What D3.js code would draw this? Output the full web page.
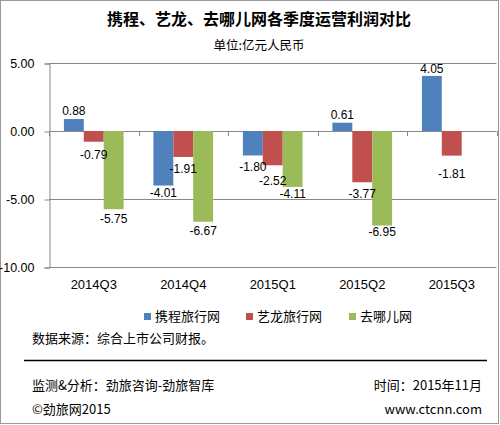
<!DOCTYPE html>
<html>
<head>
<meta charset="utf-8">
<script src="https://cdn.jsdelivr.net/npm/d3@7"></script>
<style>
body { margin: 0; background: #fff; }
text { font-family: "Liberation Sans", "Noto Sans CJK SC", sans-serif; }
.cjk { font-family: "Noto Sans CJK SC", sans-serif; }
</style>
</head>
<body>
<svg id="chart" width="500" height="425"></svg>
<script>
// data
var quarters = ["2014Q3", "2014Q4", "2015Q1", "2015Q2", "2015Q3"];
var seriesNames = ["携程旅行网", "艺龙旅行网", "去哪儿网"];
var ctrip = [0.88, -4.01, -1.80, 0.61, 4.05];
var elong = [-0.79, -1.91, -2.52, -3.77, -1.81];
var qunar = [-5.75, -6.67, -4.11, -6.95, null];
var yTicks = [5, 0, -5, -10];
var colors = ["#4f81bd", "#c0504d", "#9bbb59"];
// how far each value label sits past the bar end (px), as placed in the original
var labelGap = [[8, 7, 12, 8, 7], [13, 12, 16, 12, 18], [10, 9, 7, 6, 0]];

var fmt = function(v){ return d3.format(".2f")(v).replace("\u2212", "-"); };

var svg = d3.select("#chart");
var allSeries = [ctrip, elong, qunar];

// outer frame
svg.append("rect")
	.attr("x", 0.5).attr("y", 0.5)
	.attr("width", 498).attr("height", 423)
	.attr("fill", "#fff")
	.attr("stroke", "#999");

// titles
svg.append("text").attr("class", "cjk")
	.attr("x", 259).attr("y", 25)
	.attr("text-anchor", "middle")
	.attr("font-size", 16).attr("font-weight", "bold")
	.text("携程、艺龙、去哪儿网各季度运营利润对比");
svg.append("text").attr("class", "cjk")
	.attr("x", 259).attr("y", 50)
	.attr("text-anchor", "middle")
	.attr("font-size", 12.5)
	.text("单位:亿元人民币");

var y = d3.scaleLinear().domain([-10, 5]).range([267, 63]);
var x0 = d3.scaleBand().domain(quarters).range([49, 496.5]).paddingInner(0);
var x1 = d3.scaleBand().domain([0, 1, 2]).range([0, x0.bandwidth()]).paddingInner(0).paddingOuter(0.75);

// grid lines
svg.append("g").selectAll("line").data(yTicks).enter().append("line")
	.attr("x1", 49).attr("x2", 496.5)
	.attr("y1", function(d){ return Math.round(y(d)) + 0.5; })
	.attr("y2", function(d){ return Math.round(y(d)) + 0.5; })
	.attr("stroke", "#888");

// y axis
var yAxis = svg.append("g")
	.attr("transform", "translate(49.5,0.5)")
	.call(d3.axisLeft(y).tickValues(yTicks).tickSize(5).tickPadding(10).tickFormat(fmt));
yAxis.select(".domain").attr("stroke", "#888");
yAxis.selectAll(".tick line").attr("stroke", "#888");
yAxis.selectAll(".tick text").attr("font-size", 12.5).attr("fill", "#000");

// bars
allSeries.forEach(function(vals, s){
	svg.append("g").selectAll("rect")
		.data(vals.map(function(v, i){ return {q: quarters[i], v: v}; }).filter(function(d){ return d.v !== null; }))
		.enter().append("rect")
		.attr("x", function(d){ return x0(d.q) + x1(s); })
		.attr("width", x1.bandwidth())
		.attr("y", function(d){ return y(Math.max(0, d.v)); })
		.attr("height", function(d){ return Math.abs(y(d.v) - y(0)); })
		.attr("fill", colors[s]);
});

// zero-line tick marks at category boundaries
var bounds = quarters.map(function(q){ return x0(q); }).concat([x0.range()[1]]);
svg.append("g").selectAll("line").data(bounds).enter().append("line")
	.attr("x1", function(d){ return Math.round(d) + 0.5; })
	.attr("x2", function(d){ return Math.round(d) + 0.5; })
	.attr("y1", y(0)).attr("y2", y(0) + 5)
	.attr("stroke", "#888");

// category labels
var xAxis = svg.append("g")
	.attr("transform", "translate(0,267)")
	.call(d3.axisBottom(x0).tickSize(0).tickPadding(13));
xAxis.select(".domain").remove();
xAxis.selectAll(".tick text").attr("font-size", 13).attr("fill", "#000");

// data labels
allSeries.forEach(function(vals, s){
	svg.append("g").selectAll("text")
		.data(vals.map(function(v, i){ return {q: quarters[i], v: v, i: i}; }).filter(function(d){ return d.v !== null; }))
		.enter().append("text")
		.attr("x", function(d){ return x0(d.q) + x1(s) + x1.bandwidth() / 2; })
		.attr("y", function(d){
			var g = labelGap[s][d.i];
			return d.v >= 0 ? y(d.v) - g + 4 : y(d.v) + g + 4;
		})
		.attr("text-anchor", "middle")
		.attr("font-size", 12)
		.attr("fill", "#000")
		.text(function(d){ return fmt(d.v); });
});

// legend
var legendX = [144, 246, 349];
seriesNames.forEach(function(name, s){
	svg.append("rect")
		.attr("x", legendX[s]).attr("y", 313)
		.attr("width", 7).attr("height", 7)
		.attr("fill", colors[s]);
	svg.append("text").attr("class", "cjk")
		.attr("x", legendX[s] + 11).attr("y", 321)
		.attr("font-size", 13)
		.text(name);
});

// footer
function footText(txt, xx, yy, anchor){
	svg.append("text").attr("class", "cjk")
		.attr("x", xx).attr("y", yy)
		.attr("text-anchor", anchor || "start")
		.attr("font-size", 13)
		.text(txt);
}
footText("数据来源：综合上市公司财报。", 32, 343);
svg.append("line")
	.attr("x1", 24).attr("x2", 487)
	.attr("y1", 360.5).attr("y2", 360.5)
	.attr("stroke", "#000").attr("stroke-width", 1.3);
footText("监测&分析：劲旅咨询-劲旅智库", 32, 390);
footText("时间：2015年11月", 482, 390, "end");
footText("©劲旅网2015", 32, 414);
footText("www.ctcnn.com", 482, 414, "end");
</script>
</body>
</html>
